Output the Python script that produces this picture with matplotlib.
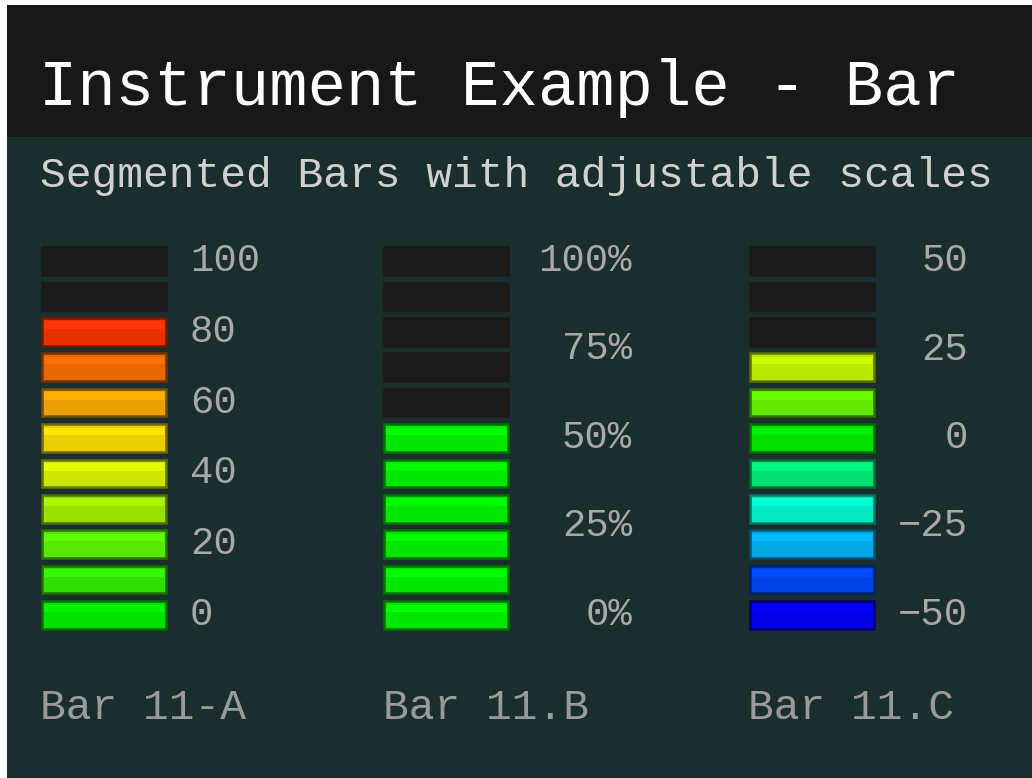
import numpy as np
import matplotlib.pyplot as plt
from matplotlib.patches import Rectangle

# =========================
# DATA
# =========================
title = "Instrument Example - Bar"
subtitle = "Segmented Bars with adjustable scales"

bar_names = ["Bar 11-A", "Bar 11.B", "Bar 11.C"]
bar_values = [80, 50, 20]
scale_min = [0, 0, -50]
scale_max = [100, 100, 50]
n_segments = 11

ticks_a = [0, 20, 40, 60, 80, 100]
ticks_b = [0, 25, 50, 75, 100]
ticks_c = [-50, -25, 0, 25, 50]
labels_a = ["0", "20", "40", "60", "80", "100"]
labels_b = ["0%", "25%", "50%", "75%", "100%"]
labels_c = ["\u221250", "\u221225", "0", "25", "50"]

# segment colours, bottom to top
colors_a = ["#00e000", "#2ee000", "#55e800", "#99e000", "#cce800", "#e8d000",
            "#eaa000", "#e86800", "#e83000", "#e81800", "#e80000"]
colors_b = ["#00e600"] * 11
colors_c = ["#0000e0", "#0044e8", "#00a8e8", "#00e8c0", "#00e070", "#00e000",
            "#60e800", "#bbe800", "#e8d000", "#e88000", "#e83000"]

# =========================
# STYLE
# =========================
W, H = 1032, 778
BG = "#1a2e2e"
HEADER = "#181818"
OFF = "#1a1a1a"
FONT = "Liberation Mono"


def shade(hex_color, f):
    c = np.array([int(hex_color[i:i + 2], 16) for i in (1, 3, 5)]) / 255
    return tuple(np.clip(c * f, 0, 1))


def fx(px):
    return px / W


def fy(px):
    return 1 - px / H


fig = plt.figure(figsize=(W / 100, H / 100), dpi=100, facecolor="white")

# background panels (behind the axes)
fig.patches.append(Rectangle((fx(7), 0), 1 - fx(7), fy(137), transform=fig.transFigure,
                             facecolor=BG, edgecolor="none", zorder=-2))
fig.patches.append(Rectangle((fx(7), fy(137)), 1 - fx(7), fy(5) - fy(137),
                             transform=fig.transFigure, facecolor=HEADER,
                             edgecolor="none", zorder=-2))

fig.text(fx(39), fy(88), title, color="white", fontsize=46, family=FONT,
         ha="left", va="center")
fig.text(fx(40), fy(176), subtitle, color="#d0d0d0", fontsize=31, family=FONT,
         ha="left", va="center")

# =========================
# SEGMENTED BARS
# =========================
col_left = [40, 382, 748]
col_width = 128
pitch = 35.4
top_center = 261
bottom_center = top_center + pitch * (n_segments - 1)
label_pads = [22, 122, 92]
label_ha = ["left", "right", "right"]
ticks = [ticks_a, ticks_b, ticks_c]
labels = [labels_a, labels_b, labels_c]
colors = [colors_a, colors_b, colors_c]
name_x = [40, 383, 748]

for i in range(3):
    ax_top = top_center - pitch / 2
    ax_bot = bottom_center + pitch / 2
    ax = fig.add_axes([fx(col_left[i]), fy(ax_bot), fx(col_width), (ax_bot - ax_top) / H])
    ax.set_facecolor("none")
    step = (scale_max[i] - scale_min[i]) / (n_segments - 1)
    centers = scale_min[i] + step * np.arange(n_segments)
    seg_h = step * 0.78
    lit = centers <= bar_values[i] + 1e-9
    fills = [colors[i][k] if lit[k] else OFF for k in range(n_segments)]
    edges = [shade(colors[i][k], 0.5) if lit[k] else OFF for k in range(n_segments)]
    highs = [shade(colors[i][k], 1.1) if lit[k] else OFF for k in range(n_segments)]
    ax.bar(0.5, seg_h, bottom=centers - seg_h / 2, width=0.985, color=fills,
           edgecolor=edges, linewidth=1.8)
    ax.bar(0.5, seg_h * 0.28, bottom=centers + seg_h * 0.1, width=0.95, color=highs,
           linewidth=0)
    ax.set_xlim(-0.01, 1.01)
    ax.set_ylim(scale_min[i] - step / 2, scale_max[i] + step / 2)
    ax.set_xticks([])
    ax.yaxis.tick_right()
    ax.set_yticks(ticks[i])
    ax.set_yticklabels(labels[i], family=FONT, fontsize=28, color="#a8a8a8",
                       ha=label_ha[i], va="center")
    ax.tick_params(axis="y", length=0, pad=label_pads[i] * 0.72)
    for s in ax.spines.values():
        s.set_visible(False)
    fig.text(fx(name_x[i]), fy(708), bar_names[i], color="#9a9a9a", fontsize=31,
             family=FONT, ha="left", va="center")

fig.savefig("out.png", dpi=100, facecolor="white")
